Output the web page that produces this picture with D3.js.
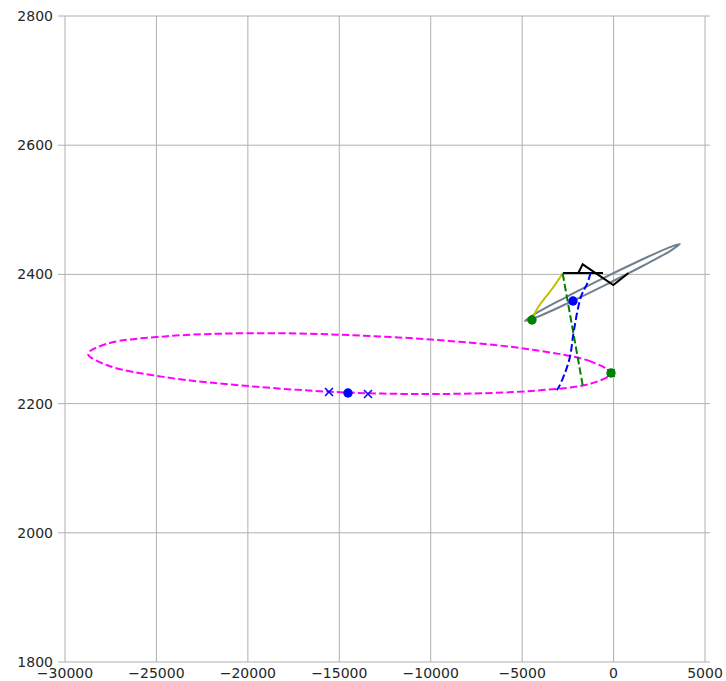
<!DOCTYPE html>
<html>
<head>
<meta charset="utf-8">
<script src="https://cdn.jsdelivr.net/npm/d3@7"></script>
<style>
  html, body { margin: 0; padding: 0; background: #fff; }
  svg { display: block; }
  text { font-family: "DejaVu Sans", sans-serif; font-size: 14px; fill: #262626; }
</style>
</head>
<body>
<svg id="chart" width="726" height="681"></svg>
<script>
// Axis ticks
const xTicks = [-30000, -25000, -20000, -15000, -10000, -5000, 0, 5000];
const yTicks = [1800, 2000, 2200, 2400, 2600, 2800];

// Large transfer ellipse (closed, dashed magenta)
const ellipseX = [-140, -1228, -4328, -8968, -14440, -19912, -24552, -27652, -28740,
                  -27652, -24552, -19912, -14440, -8968, -4328, -1228];
const ellipseY = [2247, 2265, 2283, 2297, 2306, 2309, 2304, 2293, 2277,
                  2259, 2241, 2227, 2217, 2215, 2220, 2231];

// Narrow slate-grey loop
const loopX = [3631, 3106, 1586, -520, -2652, -4233, -4845, -4320, -2800, -695, 1444, 3019];
const loopY = [2447, 2436.5, 2413, 2382.7, 2353.4, 2333.4, 2327.9, 2338.4, 2361.9, 2392.3, 2421.5, 2441.5];

// Yellow arc
const arcX = [-4462, -4244, -3970, -3369, -2767];
const arcY = [2329.4, 2343.3, 2355.7, 2377.4, 2402.2];

// Black zig-zag
const zigX = [-2767, -580, -1930, -1690, -16, 804];
const zigY = [2402.2, 2402.2, 2402.2, 2415.6, 2383.6, 2401.7];

// Green dashed leg
const greenLegX = [-2783, -2236, -1690];
const greenLegY = [2401.4, 2315, 2228.5];

// Blue dashed leg
const blueLegX = [-1252, -1438, -1783, -2166, -2384, -2658, -3024, -3112];
const blueLegY = [2402.6, 2386.2, 2365.5, 2313.9, 2272.6, 2247.4, 2224.1, 2221.1];

// Point markers
const greenDotX = [-4462, -142];
const greenDotY = [2329.4, 2247.4];
const greenCrossX = [-142];
const greenCrossY = [2247.4];
const blueDotX = [-2220, -14525];
const blueDotY = [2358.8, 2216.4];
const blueCrossX = [-15563, -13430];
const blueCrossY = [2218, 2214.9];

const svg = d3.select("#chart");
const x = d3.scaleLinear().domain([-30000, 5273]).range([65, 710]);
const y = d3.scaleLinear().domain([1800, 2800]).range([662, 16]);

const fmt = d => (d < 0 ? "\u2212" + Math.abs(d) : String(d));

// Grid
const grid = svg.append("g");
grid.selectAll("line.vx").data(xTicks).join("line")
  .attr("x1", d => x(d)).attr("x2", d => x(d))
  .attr("y1", y(2800)).attr("y2", y(1800))
  .attr("stroke", "#b0b0b0").attr("stroke-width", 1);
grid.selectAll("line.hy").data(yTicks).join("line")
  .attr("x1", x(-30000) - 7).attr("x2", 710)
  .attr("y1", d => y(d)).attr("y2", d => y(d))
  .attr("stroke", "#b0b0b0").attr("stroke-width", 1);

// Tick labels
svg.append("g").selectAll("text").data(yTicks).join("text")
  .attr("x", 53).attr("y", d => y(d)).attr("dy", "0.36em")
  .attr("text-anchor", "end").text(d => d);
svg.append("g").selectAll("text").data(xTicks).join("text")
  .attr("x", d => x(d)).attr("y", 678)
  .attr("text-anchor", "middle").text(fmt);

const zip = (xs, ys) => xs.map((v, i) => [v, ys[i]]);
const line = d3.line().x(d => x(d[0])).y(d => y(d[1]));
const closedCurve = d3.line().x(d => x(d[0])).y(d => y(d[1])).curve(d3.curveCatmullRomClosed.alpha(0.5));
const openCurve = d3.line().x(d => x(d[0])).y(d => y(d[1])).curve(d3.curveCatmullRom.alpha(0.5));

svg.append("path").attr("d", closedCurve(zip(ellipseX, ellipseY)))
  .attr("fill", "none").attr("stroke", "#ff00ff").attr("stroke-width", 2)
  .attr("stroke-dasharray", "7.4,3.2");

svg.append("path").attr("d", closedCurve(zip(loopX, loopY)))
  .attr("fill", "none").attr("stroke", "#708090").attr("stroke-width", 2);

svg.append("path").attr("d", openCurve(zip(arcX, arcY)))
  .attr("fill", "none").attr("stroke", "#bfbf00").attr("stroke-width", 2);

svg.append("path").attr("d", line(zip(zigX, zigY)))
  .attr("fill", "none").attr("stroke", "#000").attr("stroke-width", 2)
  .attr("stroke-linejoin", "miter");

svg.append("path").attr("d", line(zip(greenLegX, greenLegY)))
  .attr("fill", "none").attr("stroke", "#008000").attr("stroke-width", 2)
  .attr("stroke-dasharray", "7.4,3.2");

svg.append("path").attr("d", openCurve(zip(blueLegX, blueLegY)))
  .attr("fill", "none").attr("stroke", "#0000ff").attr("stroke-width", 2)
  .attr("stroke-dasharray", "7.4,3.2");

// Markers
const cross = (g, pts, color, r) => {
  g.selectAll(null).data(pts).join("path")
    .attr("d", d => {
      const cx = x(d[0]), cy = y(d[1]);
      return `M${cx - r},${cy - r}L${cx + r},${cy + r}M${cx - r},${cy + r}L${cx + r},${cy - r}`;
    })
    .attr("stroke", color).attr("stroke-width", 1.5).attr("fill", "none");
};
const dots = (g, pts, color) => {
  g.selectAll(null).data(pts).join("circle")
    .attr("cx", d => x(d[0])).attr("cy", d => y(d[1])).attr("r", 4.7)
    .attr("fill", color);
};
const marks = svg.append("g");
cross(marks, zip(greenCrossX, greenCrossY), "#008000", 3.8);
dots(marks, zip(greenDotX, greenDotY), "#008000");
dots(marks, zip(blueDotX, blueDotY), "#0000ff");
cross(marks, zip(blueCrossX, blueCrossY), "#0000ff", 4);
</script>
</body>
</html>
